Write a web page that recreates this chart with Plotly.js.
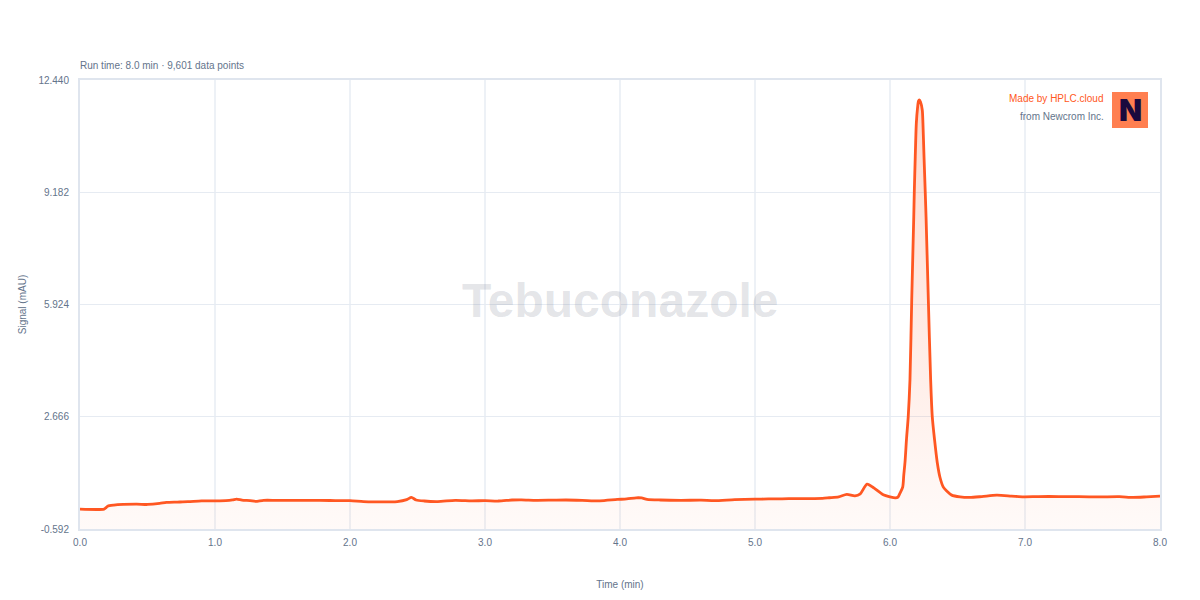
<!DOCTYPE html>
<html><head><meta charset="utf-8"><script src="https://cdn.plot.ly/plotly-3.0.1.min.js"></script>
<style>html,body{margin:0;padding:0;background:#fff}</style></head><body><div id="chart" style="width:1200px;height:600px"></div>
<script>
const times=[0,0.178,0.19,0.205,0.25,0.32,0.42,0.5,0.59,0.64,0.72,0.8,0.9,1.0,1.08,1.13,1.16,1.2,1.26,1.3,1.36,1.45,1.55,1.7,1.85,2.0,2.1,2.2,2.35,2.42,2.455,2.49,2.55,2.65,2.78,2.9,3.0,3.1,3.2,3.27,3.38,3.5,3.6,3.72,3.85,3.98,4.05,4.12,4.16,4.2,4.3,4.45,4.6,4.7,4.85,5.0,5.1,5.2,5.3,5.4,5.5,5.55,5.62,5.68,5.74,5.78,5.83,5.88,5.95,6.0,6.04,6.059,6.074,6.094,6.102,6.111,6.122,6.135,6.148,6.161,6.176,6.18,6.187,6.195,6.204,6.211,6.217,6.226,6.239,6.244,6.252,6.261,6.267,6.284,6.301,6.313,6.33,6.35,6.37,6.395,6.42,6.457,6.519,6.59,6.68,6.79,6.9,6.99,7.1,7.25,7.4,7.55,7.7,7.8,7.9,8.0];
const signal=[-0.015,-0.015,0.02,0.07,0.1,0.12,0.13,0.12,0.15,0.18,0.19,0.2,0.225,0.225,0.23,0.25,0.275,0.245,0.23,0.21,0.24,0.24,0.24,0.24,0.235,0.23,0.2,0.195,0.205,0.26,0.325,0.25,0.22,0.205,0.24,0.225,0.23,0.22,0.25,0.255,0.24,0.245,0.25,0.24,0.225,0.265,0.28,0.314,0.31,0.27,0.25,0.24,0.245,0.23,0.26,0.275,0.28,0.285,0.29,0.29,0.296,0.315,0.343,0.412,0.37,0.43,0.71,0.6,0.4,0.34,0.31,0.333,0.449,0.623,0.97,1.339,2.0,2.672,3.744,6.06,8.469,9.194,10.21,11.19,11.63,11.83,11.86,11.8,11.57,11.19,10.21,9.194,8.469,6.06,3.744,2.672,2.0,1.339,0.91,0.623,0.51,0.391,0.34,0.325,0.35,0.39,0.365,0.343,0.35,0.35,0.345,0.34,0.345,0.325,0.34,0.36];
const floorY=times.map(()=>-0.592);
const yTicks=[-0.592,2.666,5.924,9.182,12.44];
const yLabels=["-0.592","2.666","5.924","9.182","12.440"];
const xTicks=[0,1,2,3,4,5,6,7,8];
const xLabels=["0.0","1.0","2.0","3.0","4.0","5.0","6.0","7.0","8.0"];
const grey="#64748b", font="'Liberation Sans',Arial,sans-serif";
const data=[
{x:times,y:floorY,mode:"lines",line:{width:0},hoverinfo:"skip",showlegend:false},
{x:times,y:signal,mode:"lines",fill:"tonexty",fillgradient:{type:"vertical",colorscale:[[0,"rgba(255,87,34,0.03)"],[1,"rgba(255,87,34,0.22)"]]},line:{color:"#ff5722",width:2.8,shape:"spline",smoothing:0.7},showlegend:false}
];
const layout={
width:1200,height:600,paper_bgcolor:"#fff",plot_bgcolor:"#fff",
margin:{l:80,r:40,t:80,b:70.5},font:{family:font,size:10,color:grey},
xaxis:{range:[0,8],tickmode:"array",tickvals:xTicks,ticktext:xLabels,gridcolor:"#edf1f6",gridwidth:2,zeroline:false,showline:true,linecolor:"#dfe5ee",linewidth:2,mirror:true,ticks:"",ticklabelstandoff:3,tickfont:{size:10,color:grey},title:{text:"Time (min)",font:{size:10,color:grey},standoff:34}},
yaxis:{range:[-0.592,12.44],tickmode:"array",tickvals:yTicks,ticktext:yLabels,gridcolor:"#e6ebf2",gridwidth:1,zeroline:false,showline:true,linecolor:"#dfe5ee",linewidth:2,mirror:true,ticks:"",ticklabelstandoff:7,tickfont:{size:10,color:grey},title:{text:"Signal (mAU)",font:{size:10,color:grey},standoff:10}},
shapes:[{type:"rect",xref:"paper",yref:"paper",x0:1032/1080,x1:1068/1080,y0:1-48/449.5,y1:1-12/449.5,fillcolor:"#ff7f50",line:{width:0},layer:"above"}],
annotations:[
{text:"Run time: 8.0 min · 9,601 data points",xref:"paper",yref:"paper",x:0,y:1,xanchor:"left",yanchor:"bottom",xshift:-2,yshift:7,showarrow:false,font:{size:10,color:grey}},
{text:"Tebuconazole",xref:"paper",yref:"paper",x:0.5,y:1-221/449.5,xanchor:"center",yanchor:"middle",showarrow:false,font:{size:48,color:"rgba(90,100,120,0.18)",family:font,weight:700}},
{text:"Made by HPLC.cloud",xref:"paper",yref:"paper",x:1024/1080,y:1-19/449.5,xanchor:"right",yanchor:"middle",xshift:2,showarrow:false,font:{size:10,color:"#ff5722"}},
{text:"from Newcrom Inc.",xref:"paper",yref:"paper",x:1024/1080,y:1-36.5/449.5,xanchor:"right",yanchor:"middle",xshift:2,showarrow:false,font:{size:10,color:grey}},
{text:"N",xref:"paper",yref:"paper",x:1050/1080,y:1-30/449.5,xanchor:"center",yanchor:"middle",showarrow:false,font:{size:30,color:"#1a0a3e",family:"Inter, 'Liberation Sans'",weight:900}}
]};
Plotly.newPlot("chart",data,layout,{displayModeBar:false,responsive:false});
</script></body></html>
